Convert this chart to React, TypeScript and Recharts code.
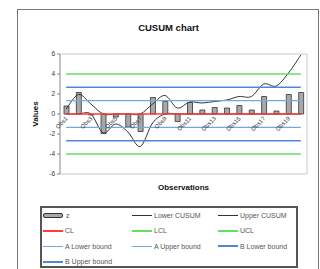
import { ComposedChart, Bar, Line, XAxis, YAxis } from "recharts";

const observations = [
  "Obs1", "Obs2", "Obs3", "Obs4", "Obs5", "Obs6", "Obs7", "Obs8", "Obs9", "Obs10",
  "Obs11", "Obs12", "Obs13", "Obs14", "Obs15", "Obs16", "Obs17", "Obs18", "Obs19", "Obs20",
];
const zValues = [0.8, 2.15, -0.1, -1.95, -0.3, -1.3, -1.75, 1.65, 1.25, -0.75, 1.15, 0.4, 0.65, 0.6, 0.85, 0.4, 1.75, 0.3, 1.95, 2.15];
const lowerCusum = [0, 0, 0, -1.9, -1.0, -1.8, -3.25, -0.9, 0, 0, 0, 0, 0, 0, 0, 0, 0, 0, 0, 0];
const upperCusum = [0.5, 1.95, 1.0, 0, 0, 0, 0, 1.0, 1.85, 0.6, 1.2, 1.1, 1.25, 1.4, 1.75, 1.75, 3.0, 2.8, 4.1, 5.9];
const centerLine = 0;
const lcl = -4;
const ucl = 4;
const aBound = 1.33;
const bBound = 2.67;
const yTicks = [-6, -4, -2, 0, 2, 4, 6];

const data = observations.map((name, i) => ({
  name,
  z: zValues[i],
  lower: lowerCusum[i],
  upper: upperCusum[i],
  cl: centerLine,
  lcl,
  ucl,
  aLow: -aBound,
  aUp: aBound,
  bLow: -bBound,
  bUp: bBound,
}));

const FONT = "'Liberation Sans', Arial, sans-serif";
const Y_MIN = -6;
const Y_MAX = 6;
const PLOT_TOP = 54;
const PLOT_H = 120;
const X_AXIS_H = 12;
const ZERO_Y = PLOT_TOP + (PLOT_H * (Y_MAX - 0)) / (Y_MAX - Y_MIN);

// Excel-like smoothed line (Catmull-Rom)
function excelSmooth(context: any) {
  let pts: number[][] = [];
  return {
    areaStart() {},
    areaEnd() {},
    lineStart() {
      pts = [];
    },
    point(x: number, y: number) {
      pts.push([+x, +y]);
    },
    lineEnd() {
      const n = pts.length;
      if (!n) return;
      context.moveTo(pts[0][0], pts[0][1]);
      for (let i = 0; i < n - 1; i++) {
        const p0 = pts[Math.max(i - 1, 0)];
        const p1 = pts[i];
        const p2 = pts[i + 1];
        const p3 = pts[Math.min(i + 2, n - 1)];
        context.bezierCurveTo(
          p1[0] + (p2[0] - p0[0]) / 6,
          p1[1] + (p2[1] - p0[1]) / 6,
          p2[0] - (p3[0] - p1[0]) / 6,
          p2[1] - (p3[1] - p1[1]) / 6,
          p2[0],
          p2[1]
        );
      }
    },
  };
}

const series = [
  { key: "lower", name: "Lower CUSUM", color: "#333333", width: 1, smooth: true },
  { key: "upper", name: "Upper CUSUM", color: "#333333", width: 1, smooth: true },
  { key: "cl", name: "CL", color: "#ff3b3b", width: 1.3 },
  { key: "lcl", name: "LCL", color: "#5fe35f", width: 1.3 },
  { key: "ucl", name: "UCL", color: "#5fe35f", width: 1.3 },
  { key: "aLow", name: "A Lower bound", color: "#74a7e3", width: 1.2 },
  { key: "aUp", name: "A Upper bound", color: "#74a7e3", width: 1.2 },
  { key: "bLow", name: "B Lower bound", color: "#4f86d8", width: 1.5 },
  { key: "bUp", name: "B Upper bound", color: "#4f86d8", width: 1.5 },
];

const renderObsTick = (props: any) => {
  const { x, payload } = props;
  const ty = ZERO_Y + 5;
  return (
    <text
      x={x + 2}
      y={ty}
      transform={`rotate(-45 ${x + 2} ${ty})`}
      textAnchor="end"
      fontSize={6}
      fontFamily={FONT}
      fill="#333"
    >
      {payload.value}
    </text>
  );
};

function LegendBox() {
  const items = [{ key: "z", name: "z", color: "#a8a8a8", width: 0, bar: true }, ...series];
  return (
    <div
      style={{
        position: "absolute",
        left: 40,
        top: 206,
        width: 258,
        height: 62,
        boxSizing: "border-box",
        border: "2px solid #555",
        display: "grid",
        gridTemplateColumns: "89px 86px 79px",
        gridAutoRows: "15.3px",
        paddingLeft: 1,
        fontFamily: FONT,
        fontSize: 7,
        color: "#555",
      }}
    >
      {items.map((it: any) => (
        <div key={it.key} style={{ display: "flex", alignItems: "center", whiteSpace: "nowrap" }}>
          {it.bar ? (
            <span
              style={{
                display: "inline-block",
                width: 18,
                height: 3,
                background: it.color,
                border: "1px solid #333",
                borderRadius: 2,
                marginRight: 3,
              }}
            />
          ) : (
            <span
              style={{
                display: "inline-block",
                width: 20,
                height: 0,
                borderTop: `${it.width + 0.7}px solid ${it.color}`,
                marginRight: 2,
              }}
            />
          )}
          {it.name}
        </div>
      ))}
    </div>
  );
}

export default function App() {
  return (
    <div style={{ position: "absolute", left: 0, top: 0, width: 320, height: 269, overflow: "hidden", background: "#fff" }}>
      <div
        style={{
          position: "absolute",
          left: 17,
          top: 9,
          width: 300,
          height: 280,
          border: "1px solid #777",
        }}
      />
      <div
        style={{
          position: "absolute",
          left: 17,
          width: 303,
          top: 22,
          textAlign: "center",
          fontFamily: FONT,
          fontWeight: "bold",
          fontSize: 9.5,
          color: "#111",
        }}
      >
        CUSUM chart
      </div>
      <div
        style={{
          position: "absolute",
          left: 35,
          top: ZERO_Y,
          transform: "translate(-50%, -50%) rotate(-90deg)",
          fontFamily: FONT,
          fontWeight: "bold",
          fontSize: 8,
          color: "#111",
        }}
      >
        Values
      </div>
      <div
        style={{
          position: "absolute",
          left: 60,
          width: 247,
          top: 183,
          textAlign: "center",
          fontFamily: FONT,
          fontWeight: "bold",
          fontSize: 8,
          color: "#111",
        }}
      >
        Observations
      </div>
      <div style={{ position: "absolute", left: 0, top: 0 }}>
        <ComposedChart
          width={320}
          height={269}
          data={data}
          margin={{ top: PLOT_TOP - 1, right: 12, left: 40, bottom: 269 - PLOT_TOP - PLOT_H - X_AXIS_H }}
        >
          <XAxis
            xAxisId="main"
            dataKey="name"
            height={X_AXIS_H}
            interval={1}
            tickLine={false}
            axisLine={{ stroke: "#c8c8c8" }}
            tick={renderObsTick}
          />
          <XAxis xAxisId="top" dataKey="name" orientation="top" height={1} tick={false} tickLine={false} axisLine={{ stroke: "#c8c8c8" }} />
          <YAxis
            yAxisId="main"
            width={20}
            domain={[Y_MIN, Y_MAX]}
            ticks={yTicks}
            interval={0}
            tickSize={3}
            tickLine={{ stroke: "#888" }}
            axisLine={{ stroke: "#888" }}
            tick={{ fontSize: 6.5, fill: "#333", fontFamily: FONT }}
          />
          <YAxis yAxisId="right" orientation="right" width={1} domain={[Y_MIN, Y_MAX]} tick={false} tickLine={false} axisLine={{ stroke: "#c8c8c8" }} />
          <Bar
            xAxisId="main"
            yAxisId="main"
            dataKey="z"
            name="z"
            fill="#a8a8a8"
            stroke="#333"
            strokeWidth={0.8}
            barSize={5}
            isAnimationActive={false}
          />
          {series.map((s) => (
            <Line
              key={s.key}
              xAxisId="main"
              yAxisId="main"
              dataKey={s.key}
              name={s.name}
              type={s.smooth ? (excelSmooth as any) : "linear"}
              stroke={s.color}
              strokeWidth={s.width}
              dot={false}
              activeDot={false}
              isAnimationActive={false}
            />
          ))}
        </ComposedChart>
      </div>
      <LegendBox />
    </div>
  );
}
